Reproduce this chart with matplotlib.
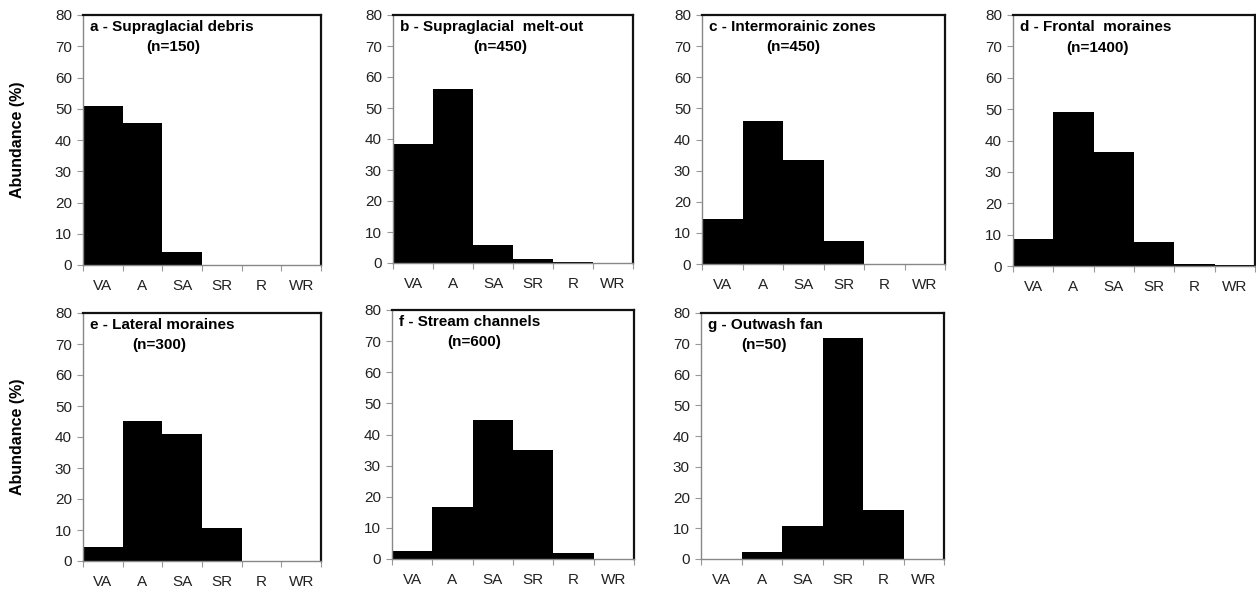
import matplotlib
matplotlib.use("Agg")
import matplotlib.pyplot as plt
import numpy as np

plt.rcParams['font.family'] = ['Liberation Sans', 'DejaVu Sans']

# shape classes
classes = ["VA", "A", "SA", "SR", "R", "WR"]

# abundance (%) per environment
supraglacial_debris = [51, 45.3, 4.2, 0, 0, 0]
supraglacial_meltout = [38.5, 56, 5.7, 1.2, 0.2, 0]
intermorainic = [14.5, 45.8, 33.5, 7.3, 0, 0]
frontal_moraines = [8.5, 49.1, 36.2, 7.6, 0.6, 0.2]
lateral_moraines = [4.5, 45.1, 41.0, 10.5, 0, 0]
stream_channels = [2.7, 16.7, 44.8, 35.0, 1.8, 0]
outwash_fan = [0, 2.2, 10.6, 72.0, 16.0, 0]

titles = ["a - Supraglacial debris", "b - Supraglacial  melt-out",
          "c - Intermorainic zones", "d - Frontal  moraines",
          "e - Lateral moraines", "f - Stream channels", "g - Outwash fan"]
n_labels = ["(n=150)", "(n=450)", "(n=450)", "(n=1400)",
            "(n=300)", "(n=600)", "(n=50)"]
series = [supraglacial_debris, supraglacial_meltout, intermorainic,
          frontal_moraines, lateral_moraines, stream_channels, outwash_fan]

# axes boxes in pixels: left, top, right, bottom
W, H = 1256, 595
boxes = [(83, 15, 321, 265), (393, 15, 633, 263), (702, 15, 945, 264),
         (1013, 15, 1255, 266), (83, 313, 321, 561), (392, 310, 634, 559),
         (701, 313, 944, 559)]
n_xpos = [0.38, 0.445, 0.375, 0.35, 0.32, 0.34, 0.26]

fig = plt.figure(figsize=(W / 100, H / 100), dpi=100)

for i, vals in enumerate(series):
    l, t, r, b = boxes[i]
    ax = fig.add_axes([l / W, 1 - b / H, (r - l) / W, (b - t) / H])
    x = np.arange(len(classes))
    ax.bar(x, vals, width=1.0, align='edge', color='black', edgecolor='black', linewidth=0)
    ax.set_xlim(0, 6)
    ax.set_ylim(0, 80)
    ax.set_yticks(np.arange(0, 81, 10))
    ax.set_xticks(np.arange(0, 7))
    ax.set_xticklabels([])
    ax.set_xticks(x + 0.5, minor=True)
    ax.set_xticklabels(classes, minor=True)
    ax.tick_params(axis='x', which='minor', length=0, pad=10, labelsize=11, colors='#222222')
    ax.tick_params(axis='x', which='major', length=4, color='#999999', direction='out')
    ax.tick_params(axis='y', length=4, color='#999999', labelsize=11, labelcolor='#222222', pad=4)
    for side in ['top', 'right']:
        ax.spines[side].set_linewidth(1.6)
        ax.spines[side].set_color('#111111')
    for side in ['left', 'bottom']:
        ax.spines[side].set_linewidth(1.0)
        ax.spines[side].set_color('#888888')
    ax.text(0.03, 0.952, titles[i], transform=ax.transAxes, fontsize=11,
            fontweight='bold', ha='left', va='center')
    ax.text(n_xpos[i], 0.87, n_labels[i], transform=ax.transAxes, fontsize=11,
            fontweight='bold', ha='center', va='center')

fig.text(18 / W, 1 - 140 / H, "Abundance (%)", rotation=90, ha='center', va='center',
         fontsize=11.5, fontweight='bold')
fig.text(18 / W, 1 - 437 / H, "Abundance (%)", rotation=90, ha='center', va='center',
         fontsize=11.5, fontweight='bold')

plt.savefig("out.png", dpi=100, facecolor='white')
